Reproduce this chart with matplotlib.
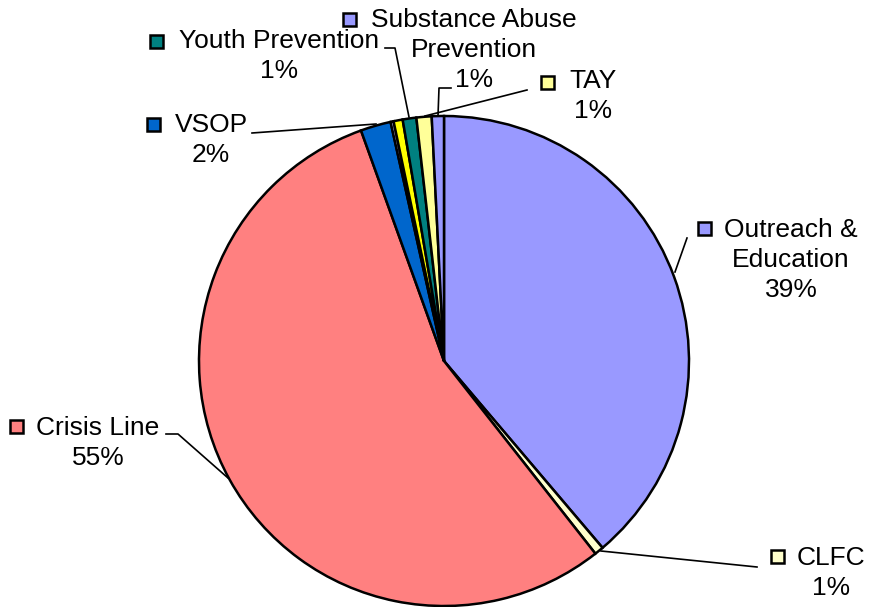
import matplotlib.pyplot as plt
from matplotlib.patches import Rectangle

# Share of budget by program, clockwise from 12 o'clock
programs = ["Outreach &\nEducation", "CLFC", "Crisis Line", "VSOP", "", "",
            "Youth Prevention", "TAY", "Substance Abuse\nPrevention"]
shares = [38.8, 0.6, 55.1, 2.0, 0.2, 0.6, 0.9, 1.0, 0.8]
colors = ["#9999FF", "#FFFFCC", "#FF8080", "#0066CC", "#CCCCFF", "#FFFF00",
          "#008080", "#FFFF99", "#9999FF"]

W, H = 870, 607

fig = plt.figure(figsize=(W / 100, H / 100), dpi=100)
ax = fig.add_axes([0, 0, 1, 1])

ax.pie(shares, colors=colors, startangle=90, counterclock=False,
       center=(444, H - 361), radius=245,
       wedgeprops=dict(edgecolor="black", linewidth=1.8))

ax.set_xlim(0, W)
ax.set_ylim(0, H)
ax.set_aspect("equal")
ax.axis("off")

font = dict(family=["Liberation Sans", "DejaVu Sans"], fontsize=19)

# label block centre, legend key centre, leader line (pixel coords from top-left)
label_layout = {
    0: ((791, 260), (705, 229), [(687, 238), (675, 272)]),
    1: ((831, 573), (778, 556), [(757, 567), (601, 551)]),
    2: ((98, 443), (17, 426), [(166, 434), (178, 434), (228, 478)]),
    3: ((211, 140), (154, 125), [(252, 133), (376, 124)]),
    6: ((279, 56), (157, 41), [(385, 48), (395, 48), (409, 117)]),
    7: ((593, 96), (548, 82), [(527, 90), (425, 116)]),
    8: ((474, 50), (350, 19), [(451, 88), (439, 88), (438, 116)]),
}

for i, (text_pos, key_pos, leader) in label_layout.items():
    label = f"{programs[i]}\n{round(shares[i])}%"
    ax.text(text_pos[0], H - text_pos[1], label, ha="center", va="center",
            multialignment="center", linespacing=1.32, **font)
    ax.add_patch(Rectangle((key_pos[0] - 6.5, H - key_pos[1] - 6.5), 13, 13,
                           facecolor=colors[i], edgecolor="black", linewidth=1.8))
    xs = [p[0] for p in leader]
    ys = [H - p[1] for p in leader]
    ax.plot(xs, ys, color="black", linewidth=1.2)

fig.savefig("out.png", dpi=100)
